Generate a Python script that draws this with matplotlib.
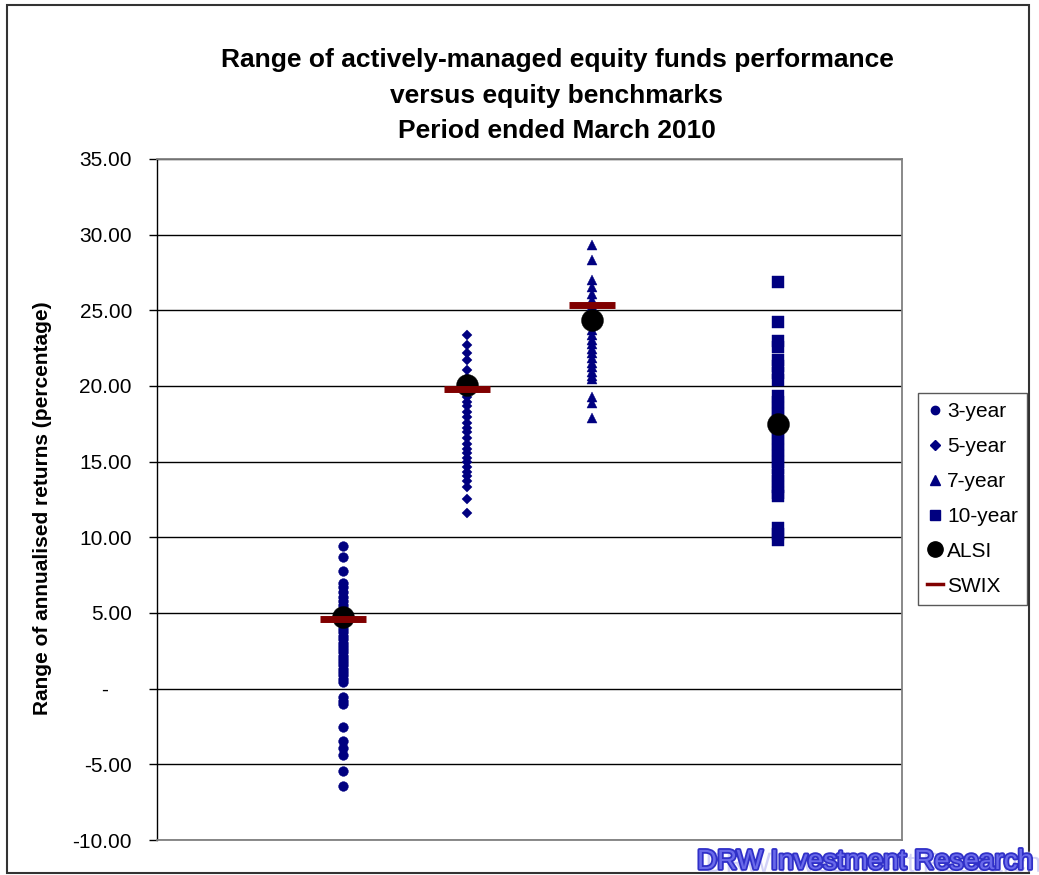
import matplotlib
matplotlib.use('Agg')
import matplotlib.pyplot as plt
from matplotlib.lines import Line2D
from matplotlib.patches import Rectangle
import matplotlib.patheffects as pe

plt.rcParams['font.family'] = ['Liberation Sans', 'DejaVu Sans']

# ---------------- data ----------------
series_names = ['3-year', '5-year', '7-year', '10-year']
series_x = [1.5, 2.5, 3.5, 5.0]

returns_3y = [9.40, 8.70, 7.75, 7.00, 6.75, 6.40, 6.05, 5.80, 5.55, 5.25, 5.00,
              4.75, 4.45, 4.20, 3.95, 3.75, 3.50, 3.25, 3.05, 2.85, 2.65, 2.40,
              2.15, 1.95, 1.75, 1.55, 1.30, 1.10, 0.90, 0.65, 0.45,
              -0.55, -0.80, -1.00, -2.50, -3.45, -3.95, -4.40, -5.45, -6.40]
returns_5y = [23.40, 22.70, 22.15, 21.75, 21.05, 20.55, 20.25, 19.65, 19.30,
              18.95, 18.65, 18.25, 17.95, 17.55, 17.25, 16.95, 16.55, 16.15,
              15.85, 15.55, 15.25, 14.95, 14.65, 14.35, 14.05, 13.75, 13.30,
              12.50, 11.60]
returns_7y = [29.30, 28.30, 27.00, 26.55, 26.10, 25.65, 25.30, 24.90, 23.70,
              23.35, 23.05, 22.75, 22.45, 22.15, 21.85, 21.55, 21.25, 20.95,
              20.65, 20.45, 19.30, 18.85, 17.90]
returns_10y = [26.85, 24.20, 22.95, 22.60, 21.70, 21.30, 20.85, 20.40, 19.35,
               18.95, 18.55, 18.15, 17.75, 17.35, 16.95, 16.55, 16.15, 15.75,
               15.35, 14.95, 14.55, 14.15, 13.75, 13.35, 12.95, 12.75,
               10.60, 10.20, 9.85]

alsi_values = [4.72, 20.07, 24.37, 17.50]
swix_x = [1.5, 2.5, 3.5]
swix_values = [4.59, 19.81, 25.36]

y_ticks = [-10, -5, 0, 5, 10, 15, 20, 25, 30, 35]
y_tick_labels = ['-10.00', '-5.00', '-    ', '5.00', '10.00', '15.00',
                 '20.00', '25.00', '30.00', '35.00']

title_lines = ['Range of actively-managed equity funds performance',
               'versus equity benchmarks',
               'Period ended March 2010']
y_label = 'Range of annualised returns (percentage)'
watermark = 'DRW Investment Research'

# ---------------- figure ----------------
W, H = 1039, 875
fig = plt.figure(figsize=(W / 100, H / 100), dpi=100)
fig.patch.set_facecolor('white')

ax = fig.add_axes([157 / W, 1 - 840 / H, (902 - 157) / W, (840 - 159) / H])
navy = '#000080'
maroon = '#800000'

all_series = [returns_3y, returns_5y, returns_7y, returns_10y]
markers = ['o', 'D', '^', 's']
msizes = [7.0, 5.2, 7.4, 8.0]
for xv, vals, mk, ms in zip(series_x, all_series, markers, msizes):
    ax.plot([xv] * len(vals), vals, ls='none', marker=mk, ms=ms,
            color=navy, mec=navy, mew=0.3, zorder=3)

ax.plot(series_x, alsi_values, ls='none', marker='o', ms=15.8,
        color='black', mec='black', mew=0.3, zorder=4)
ax.plot(swix_x, swix_values, ls='none', marker='_', ms=32.5, mew=5.0,
        color=maroon, zorder=5)

ax.set_xlim(0, 6)
ax.set_ylim(-10, 35)
ax.set_yticks(y_ticks)
ax.set_yticklabels(y_tick_labels, fontsize=15)
ax.set_xticks([])
ax.tick_params(axis='y', direction='out', length=6, width=1, pad=12,
               colors='black')
ax.yaxis.grid(True, color='black', lw=1)
ax.set_axisbelow(True)
for side in ['top', 'right', 'bottom']:
    ax.spines[side].set_color('#808080')
    ax.spines[side].set_linewidth(1.3)
ax.spines['left'].set_color('black')
ax.spines['left'].set_linewidth(1.0)

# titles
baselines = [66.5, 102.5, 137.5]
for line, b in zip(title_lines, baselines):
    fig.text(557 / W, 1 - b / H, line, ha='center', va='baseline',
             fontsize=19, fontweight='bold')

fig.text(43 / W, 1 - 508 / H, y_label, rotation=90, ha='center',
         va='center', fontsize=15, fontweight='bold')

# legend
handles = [
    Line2D([], [], ls='none', marker='o', ms=6, color=navy),
    Line2D([], [], ls='none', marker='D', ms=4.8, color=navy),
    Line2D([], [], ls='none', marker='^', ms=7, color=navy),
    Line2D([], [], ls='none', marker='s', ms=7, color=navy),
    Line2D([], [], ls='none', marker='o', ms=11, color='black'),
    Line2D([], [], ls='-', lw=2.5, color=maroon),
]
labels = series_names + ['ALSI', 'SWIX']
leg = fig.legend(handles, labels, loc='upper left',
                 bbox_to_anchor=(918 / W, 1 - 393 / H), fontsize=15,
                 frameon=True, fancybox=False, borderaxespad=0,
                 handlelength=0.75, handletextpad=0.2, labelspacing=0.76,
                 borderpad=0.45)
leg.get_frame().set_edgecolor('#303030')
leg.get_frame().set_linewidth(1.0)

# outer frame
fig.add_artist(Rectangle((7 / W, 2 / H), (1029 - 7) / W, (873 - 5) / H,
                         transform=fig.transFigure, fill=False,
                         edgecolor='#333333', lw=1.5, zorder=1))

# watermark
fig.text(697 / W, 1 - 869 / H, watermark, ha='left', va='baseline',
         fontsize=20, family=['Liberation Sans'],
         color='#6a6aea', zorder=10,
         path_effects=[pe.SimplePatchShadow(offset=(6, -2),
                                            shadow_rgbFace='#c0c0f4',
                                            alpha=0.7),
                       pe.Stroke(linewidth=2.6, foreground='#3030c8'),
                       pe.Normal()])

fig.savefig('out.png', dpi=100)
